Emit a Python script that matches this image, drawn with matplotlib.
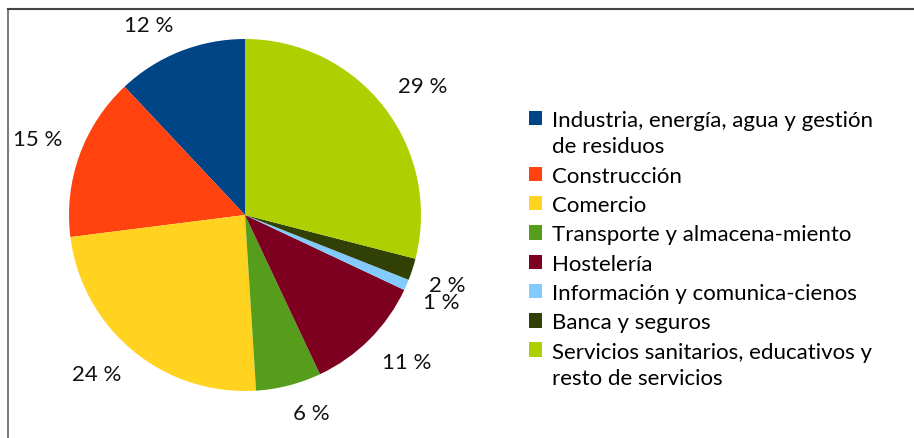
import matplotlib
matplotlib.use("Agg")
import numpy as np
import matplotlib.pyplot as plt
from matplotlib.lines import Line2D
from matplotlib.patches import Patch, Rectangle
from matplotlib.legend_handler import HandlerBase

plt.rcParams['font.family'] = ['Lato', 'DejaVu Sans']

sectores = [
    "Industria, energía, agua y gestión\nde residuos",
    "Construcción",
    "Comercio",
    "Transporte y almacena-miento",
    "Hostelería",
    "Información y comunica-cienos",
    "Banca y seguros",
    "Servicios sanitarios, educativos y\nresto de servicios",
]
porcentajes = [12, 15, 24, 6, 11, 1, 2, 29]
colores = ["#004586", "#ff420e", "#ffd320", "#579d1c",
           "#7e0021", "#83caff", "#314004", "#aecf00"]

W, H = 914, 439
fig = plt.figure(figsize=(W / 100, H / 100), dpi=100)

# pie centre (245, 216) px, radius 176 px
cx, cy, r = 245, 216, 176
half = 200
ax = fig.add_axes([(cx - half) / W, (H - cy - half) / H, 2 * half / W, 2 * half / H])
etiquetas = [f"{p} %" for p in porcentajes]
wedges, texts = ax.pie(
    porcentajes, colors=colores, startangle=90, counterclock=True,
    labels=etiquetas, labeldistance=1.1,
    wedgeprops=dict(linewidth=0),
    textprops=dict(fontsize=16, color="#111111"),
)
lim = half / r
ax.set_xlim(-lim, lim)
ax.set_ylim(-lim, lim)
ax.axis('off')
# anchor each label by its corner nearest to the pie
for w, t in zip(wedges, texts):
    ang = np.deg2rad((w.theta1 + w.theta2) / 2)
    t.set_ha('left' if np.cos(ang) > 0 else 'right')
    t.set_va('bottom' if np.sin(ang) > 0 else 'top')
    t.set_clip_on(False)


class SquareHandler(HandlerBase):
    # square marker; for wrapped labels it sits on the first line
    def __init__(self, nlines):
        super().__init__()
        self.nlines = nlines

    def create_artists(self, legend, orig_handle, xdescent, ydescent,
                       width, height, fontsize, trans):
        shift = (self.nlines - 1) * fontsize * 1.4 / 2
        p = Rectangle((-xdescent, -ydescent + shift), width, height,
                      facecolor=orig_handle.get_facecolor(), edgecolor='none',
                      transform=trans)
        return [p]


handles = [Patch(facecolor=c, edgecolor='none') for c in colores]
hmap = {h: SquareHandler(s.count("\n") + 1) for h, s in zip(handles, sectores)}
leg = fig.legend(handles, sectores, loc='center left',
                 bbox_to_anchor=(529 / W, 1 - 250 / H), frameon=False,
                 fontsize=16, handlelength=0.6, handleheight=0.6,
                 handletextpad=0.45, labelspacing=0.42,
                 borderpad=0, borderaxespad=0, handler_map=hmap)
for t in leg.get_texts():
    t.set_linespacing(1.4)

# chart border (top and left visible)
fig.add_artist(Line2D([8 / W, 8 / W], [0, 1 - 10 / H], color="#7f7f7f", lw=1.5))
fig.add_artist(Line2D([8 / W, 1], [1 - 10 / H, 1 - 10 / H], color="#444444", lw=1.5))

fig.savefig("out.png", dpi=100)
